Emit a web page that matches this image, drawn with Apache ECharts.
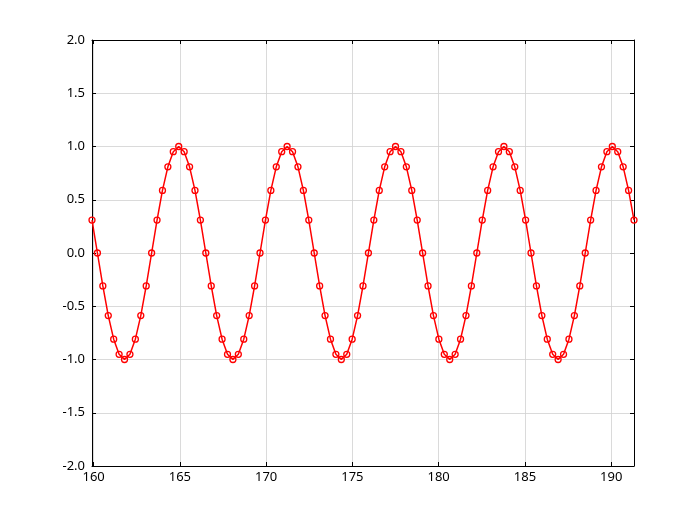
<!DOCTYPE html>
<html>
<head>
<meta charset="utf-8">
<script src="https://cdn.jsdelivr.net/npm/echarts@6/dist/echarts.min.js"></script>
<style>
html,body{margin:0;padding:0;background:#fff;}
#chart{width:700px;height:524px;}
</style>
</head>
<body>
<div id="chart"></div>
<script>
// x values (sampled every 0.1*pi)
const xValues = [
159.907,160.221,160.535,160.850,161.164,161.478,161.792,162.106,162.420,162.735,
163.049,163.363,163.677,163.991,164.305,164.619,164.934,165.248,165.562,165.876,
166.190,166.504,166.819,167.133,167.447,167.761,168.075,168.389,168.704,169.018,
169.332,169.646,169.960,170.274,170.588,170.903,171.217,171.531,171.845,172.159,
172.473,172.788,173.102,173.416,173.730,174.044,174.358,174.673,174.987,175.301,
175.615,175.929,176.243,176.558,176.872,177.186,177.500,177.814,178.128,178.442,
178.757,179.071,179.385,179.699,180.013,180.327,180.642,180.956,181.270,181.584,
181.898,182.212,182.527,182.841,183.155,183.469,183.783,184.097,184.412,184.726,
185.040,185.354,185.668,185.982,186.296,186.611,186.925,187.239,187.553,187.867,
188.181,188.496,188.810,189.124,189.438,189.752,190.066,190.381,190.695,191.009,
191.323
];
const yValues = [
0.309,0,-0.309,-0.588,-0.809,-0.951,-1,-0.951,-0.809,-0.588,
-0.309,0,0.309,0.588,0.809,0.951,1,0.951,0.809,0.588,
0.309,0,-0.309,-0.588,-0.809,-0.951,-1,-0.951,-0.809,-0.588,
-0.309,0,0.309,0.588,0.809,0.951,1,0.951,0.809,0.588,
0.309,0,-0.309,-0.588,-0.809,-0.951,-1,-0.951,-0.809,-0.588,
-0.309,0,0.309,0.588,0.809,0.951,1,0.951,0.809,0.588,
0.309,0,-0.309,-0.588,-0.809,-0.951,-1,-0.951,-0.809,-0.588,
-0.309,0,0.309,0.588,0.809,0.951,1,0.951,0.809,0.588,
0.309,0,-0.309,-0.588,-0.809,-0.951,-1,-0.951,-0.809,-0.588,
-0.309,0,0.309,0.588,0.809,0.951,1,0.951,0.809,0.588,
0.309
];
const xTicks = [160,165,170,175,180,185,190];
const xMin = 159.907, xMax = 191.323;
const yMin = -2, yMax = 2, yInterval = 0.5;

const FONT = 'Noto Sans';
const axisLine = {show:true, onZero:false, lineStyle:{color:'#000', width:1}};
const gridLine = {show:true, lineStyle:{color:'#d0d0d0', width:0.8}};

const chart = echarts.init(document.getElementById('chart'), null, {renderer:'canvas'});
chart.setOption({
  animation:false,
  backgroundColor:'#fff',
  grid:{left:92, right:66, top:40, bottom:58, containLabel:false},
  xAxis:[
    {type:'value', position:'bottom', min:xMin, max:xMax,
     axisLine:axisLine,
     axisTick:{show:true, inside:true, length:4, customValues:xTicks, lineStyle:{color:'#000', width:1}},
     axisLabel:{show:true, customValues:xTicks, margin:5, color:'#000', fontFamily:FONT, fontSize:13, formatter:v=>String(Math.round(v))},
     splitLine:gridLine},
    {type:'value', position:'top', min:xMin, max:xMax,
     axisLine:axisLine,
     axisTick:{show:true, inside:true, length:4, customValues:xTicks, lineStyle:{color:'#000', width:1}},
     axisLabel:{show:false},
     splitLine:{show:false}}
  ],
  yAxis:[
    {type:'value', position:'left', min:yMin, max:yMax, interval:yInterval,
     axisLine:axisLine,
     axisTick:{show:true, inside:true, length:4, lineStyle:{color:'#000', width:1}},
     axisLabel:{show:true, margin:7, color:'#000', fontFamily:FONT, fontSize:13, formatter:v=>v.toFixed(1)},
     splitLine:gridLine},
    {type:'value', position:'right', min:yMin, max:yMax, interval:yInterval,
     axisLine:axisLine,
     axisTick:{show:true, inside:true, length:4, lineStyle:{color:'#000', width:1}},
     axisLabel:{show:false},
     splitLine:{show:false}}
  ],
  series:[{
    type:'line',
    data:xValues.map((x,i)=>[x,yValues[i]]),
    xAxisIndex:0, yAxisIndex:0,
    symbol:'circle', symbolSize:6, showAllSymbol:true,
    lineStyle:{color:'#ff0000', width:1.5},
    itemStyle:{color:'rgba(0,0,0,0)', borderColor:'#ff0000', borderWidth:1.3},
    clip:true
  }]
});
</script>
</body>
</html>
